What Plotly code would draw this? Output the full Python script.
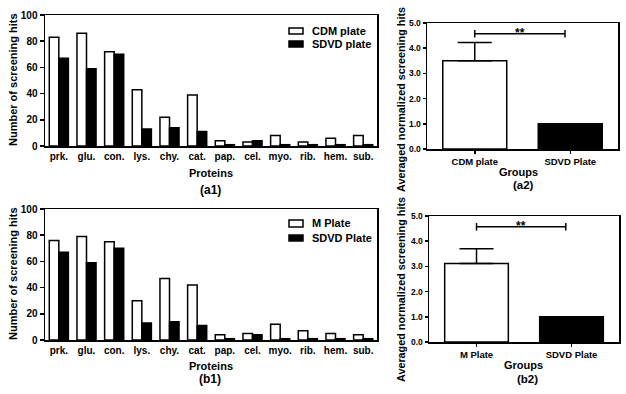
import plotly.graph_objects as go

W, H = 626, 394

proteins = ["prk.", "glu.", "con.", "lys.", "chy.", "cat.", "pap.", "cel.", "myo.", "rib.", "hem.", "sub."]
cdm_hits = [83, 86, 72, 43, 22, 39, 4, 3, 8, 3, 6, 8]
sdvd_hits_a = [67, 59, 70, 13, 14, 11, 1, 4, 1, 1, 1, 1]
m_hits = [76, 79, 75, 30, 47, 42, 4, 5, 12, 7, 5, 4]
sdvd_hits_b = [67, 59, 70, 13, 14, 11, 1, 4, 1, 1, 1, 1]

groups_a = ["CDM plate", "SDVD Plate"]
avg_a = [3.5, 1.0]
err_a = [0.73, 0.0]
groups_b = ["M Plate", "SDVD Plate"]
avg_b = [3.12, 1.0]
err_b = [0.58, 0.0]

avg_ticks = [0.0, 1.0, 2.0, 3.0, 4.0, 5.0]

legend_a = ["CDM plate", "SDVD plate"]
legend_b = ["M Plate", "SDVD Plate"]

FONT = "Liberation Sans, Arial, sans-serif"
LW = 1.5


def px_x(p):
    return p / W


def px_y(p):
    return 1 - p / H


fig = go.Figure()

bar_line = dict(color="black", width=LW)

# (a1)
fig.add_trace(go.Bar(x=proteins, y=cdm_hits, name=legend_a[0], marker=dict(color="white", line=bar_line),
                     xaxis="x", yaxis="y"))
fig.add_trace(go.Bar(x=proteins, y=sdvd_hits_a, name=legend_a[1], marker=dict(color="black", line=bar_line),
                     xaxis="x", yaxis="y"))
# (b1)
fig.add_trace(go.Bar(x=proteins, y=m_hits, name=legend_b[0], marker=dict(color="white", line=bar_line),
                     xaxis="x2", yaxis="y2"))
fig.add_trace(go.Bar(x=proteins, y=sdvd_hits_b, name=legend_b[1], marker=dict(color="black", line=bar_line),
                     xaxis="x2", yaxis="y2"))
# (a2)
fig.add_trace(go.Bar(x=groups_a, y=avg_a, marker=dict(color=["white", "black"], line=bar_line), width=0.67,
                     error_y=dict(type="data", array=err_a, arrayminus=[0, 0], symmetric=False,
                                  color="black", thickness=LW, width=17),
                     xaxis="x3", yaxis="y3"))
# (b2)
fig.add_trace(go.Bar(x=groups_b, y=avg_b, marker=dict(color=["white", "black"], line=bar_line), width=0.67,
                     error_y=dict(type="data", array=err_b, arrayminus=[0, 0], symmetric=False,
                                  color="black", thickness=LW, width=17),
                     xaxis="x4", yaxis="y4"))

tickfont = dict(family=FONT, size=10, color="black", weight="bold")
small_tickfont = dict(family=FONT, size=8.5, color="black", weight="bold")

common_axis = dict(showline=True, linecolor="black", linewidth=LW, mirror=True, showgrid=False,
                   zeroline=False, tickfont=tickfont, ticks="outside", tickcolor="black", tickwidth=LW,
                   ticklen=4, automargin=False, title=dict(text=""), fixedrange=True,
                   ticklabeloverflow="allow")

dom_a1_x = [px_x(45), px_x(377)]
dom_a1_y = [px_y(146), px_y(15)]
dom_b1_y = [px_y(340), px_y(209)]
dom_a2_x = [px_x(427), px_x(618)]
dom_a2_y = [px_y(149), px_y(23)]
dom_b2_x = [px_x(429), px_x(619)]
dom_b2_y = [px_y(342), px_y(216)]

fig.update_layout(
    template="none",
    width=W, height=H, margin=dict(l=0, r=0, t=0, b=0),
    paper_bgcolor="white", plot_bgcolor="white",
    barmode="group", bargap=0.31, bargroupgap=0.0,
    showlegend=False, hovermode=False,
    font=dict(family=FONT, color="black"),
    xaxis=dict(common_axis, domain=dom_a1_x, anchor="y", range=[-0.5, 11.5], ticks=""),
    yaxis=dict(common_axis, domain=dom_a1_y, anchor="x", range=[0, 100], dtick=20),
    xaxis2=dict(common_axis, domain=dom_a1_x, anchor="y2", range=[-0.5, 11.5], ticks=""),
    yaxis2=dict(common_axis, domain=dom_b1_y, anchor="x2", range=[0, 100], dtick=20),
    xaxis3=dict(common_axis, domain=dom_a2_x, anchor="y3", range=[-0.5, 1.5], ticklen=3,
                tickfont=dict(tickfont, size=9.5)),
    yaxis3=dict(common_axis, domain=dom_a2_y, anchor="x3", range=[0, 5], tickvals=avg_ticks,
                tickformat=".1f", ticklen=3, tickfont=small_tickfont),
    xaxis4=dict(common_axis, domain=dom_b2_x, anchor="y4", range=[-0.5, 1.5], ticklen=3,
                tickfont=dict(tickfont, size=9.5)),
    yaxis4=dict(common_axis, domain=dom_b2_y, anchor="x4", range=[0, 5], tickvals=avg_ticks,
                tickformat=".1f", ticklen=3, tickfont=small_tickfont),
)

# significance brackets
for xr, yr, x1 in (("x3", "y3", 0.945), ("x4", "y4", 0.94)):
    fig.add_shape(type="line", xref=xr, yref=yr, x0=0, x1=x1, y0=4.57, y1=4.57,
                  line=dict(color="black", width=LW))
    fig.add_shape(type="line", xref=xr, yref=yr, x0=0, x1=0, y0=4.42, y1=4.72,
                  line=dict(color="black", width=LW))
    fig.add_shape(type="line", xref=xr, yref=yr, x0=x1, x1=x1, y0=4.42, y1=4.72,
                  line=dict(color="black", width=LW))
    fig.add_annotation(xref=xr, yref=yr, x=x1 / 2, y=4.6, text="**", showarrow=False, yanchor="middle",
                       font=dict(family=FONT, size=12, color="black", weight="bold"))


def text(label, xp, yp, size=11, angle=0, xanchor="center"):
    fig.add_annotation(xref="paper", yref="paper", x=px_x(xp), y=px_y(yp), text=label, showarrow=False,
                       xanchor=xanchor, yanchor="middle", textangle=angle,
                       font=dict(family=FONT, size=size, color="black", weight="bold"))


# axis titles
text("Proteins", 211, 173)
text("Proteins", 211, 366)
text("Groups", 518, 172)
text("Groups", 523, 365)
text("Number of screening hits", 13, 80, angle=-90)
text("Number of screening hits", 13, 274, angle=-90)
text("Averaged normalized screening hits", 401, 100, size=10.8, angle=-90)
text("Averaged normalized screening hits", 401, 290, size=10.8, angle=-90)

# panel labels
text("(a1)", 210, 190, size=12)
text("(b1)", 210, 379, size=12)
text("(a2)", 523, 185.5, size=11.5)
text("(b2)", 527, 379, size=11.5)

# legends (drawn boxes + labels)
for (names, rows) in ((legend_a, ((28, 34, 31), (41, 47, 44))), (legend_b, ((220, 227, 223), (235, 241, 238)))):
    for name, fill, (top, bot, mid) in zip(names, ("white", "black"), rows):
        fig.add_shape(type="rect", xref="paper", yref="paper", x0=px_x(289), x1=px_x(303),
                      y0=px_y(bot), y1=px_y(top), fillcolor=fill, line=dict(color="black", width=LW))
        text(name, 310, mid, size=11, xanchor="left")

fig.write_html("out.html", config={"displayModeBar": False, "staticPlot": True},
               post_script="document.body.style.margin='0';document.body.style.padding='0';")
